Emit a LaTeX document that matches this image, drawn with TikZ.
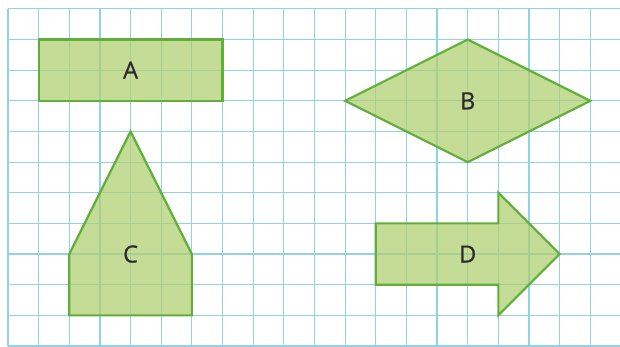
\documentclass[tikz,border=0pt]{standalone}
\usepackage{fontspec}
\setmainfont{Open Sans}
\newfontfamily\labelfont{Open Sans}[FakeBold=0.8]
\definecolor{gridblue}{HTML}{92D2E6}
\definecolor{shapegreen}{HTML}{B0CF6E}
\definecolor{edgegreen}{HTML}{5FAF3A}
\definecolor{labelgray}{HTML}{2B2B2B}
\tikzset{
  gridline/.style={draw=gridblue, line width=1.1pt},
  figure/.style={fill=shapegreen, fill opacity=0.72, draw=edgegreen, draw opacity=1, line width=2pt, line join=miter},
  letter/.style={text=labelgray, font=\labelfont\fontsize{22}{24}\selectfont, inner sep=0pt}
}
\begin{document}
\begin{tikzpicture}
  \useasboundingbox (-0.26,-0.03) rectangle (19.97,11.29);
  \fill[white] (-0.26,-0.03) rectangle (19.97,11.29);

  % squared paper
  \foreach \x in {0,...,19}
    \draw[gridline] (\x,0) -- (\x,11);
  \foreach \y in {0,...,11}
    \draw[gridline] (0,\y) -- (19.97,\y);

  % shapes
  \draw[figure] (1,8) rectangle (7,10);
  \draw[figure] (11,8) -- (15,10) -- (19,8) -- (15,6) -- cycle;
  \draw[figure] (2,1) -- (6,1) -- (6,3) -- (4,7) -- (2,3) -- cycle;
  \draw[figure] (12,2) -- (16,2) -- (16,1) -- (18,3) -- (16,5) -- (16,4) -- (12,4) -- cycle;

  % labels
  \node[letter] (labelA) at (4,9) {A};
  \node[letter] (labelB) at (15,8) {B};
  \node[letter] (labelC) at (4,3) {C};
  \node[letter] (labelD) at (15,3) {D};
\end{tikzpicture}
\end{document}
